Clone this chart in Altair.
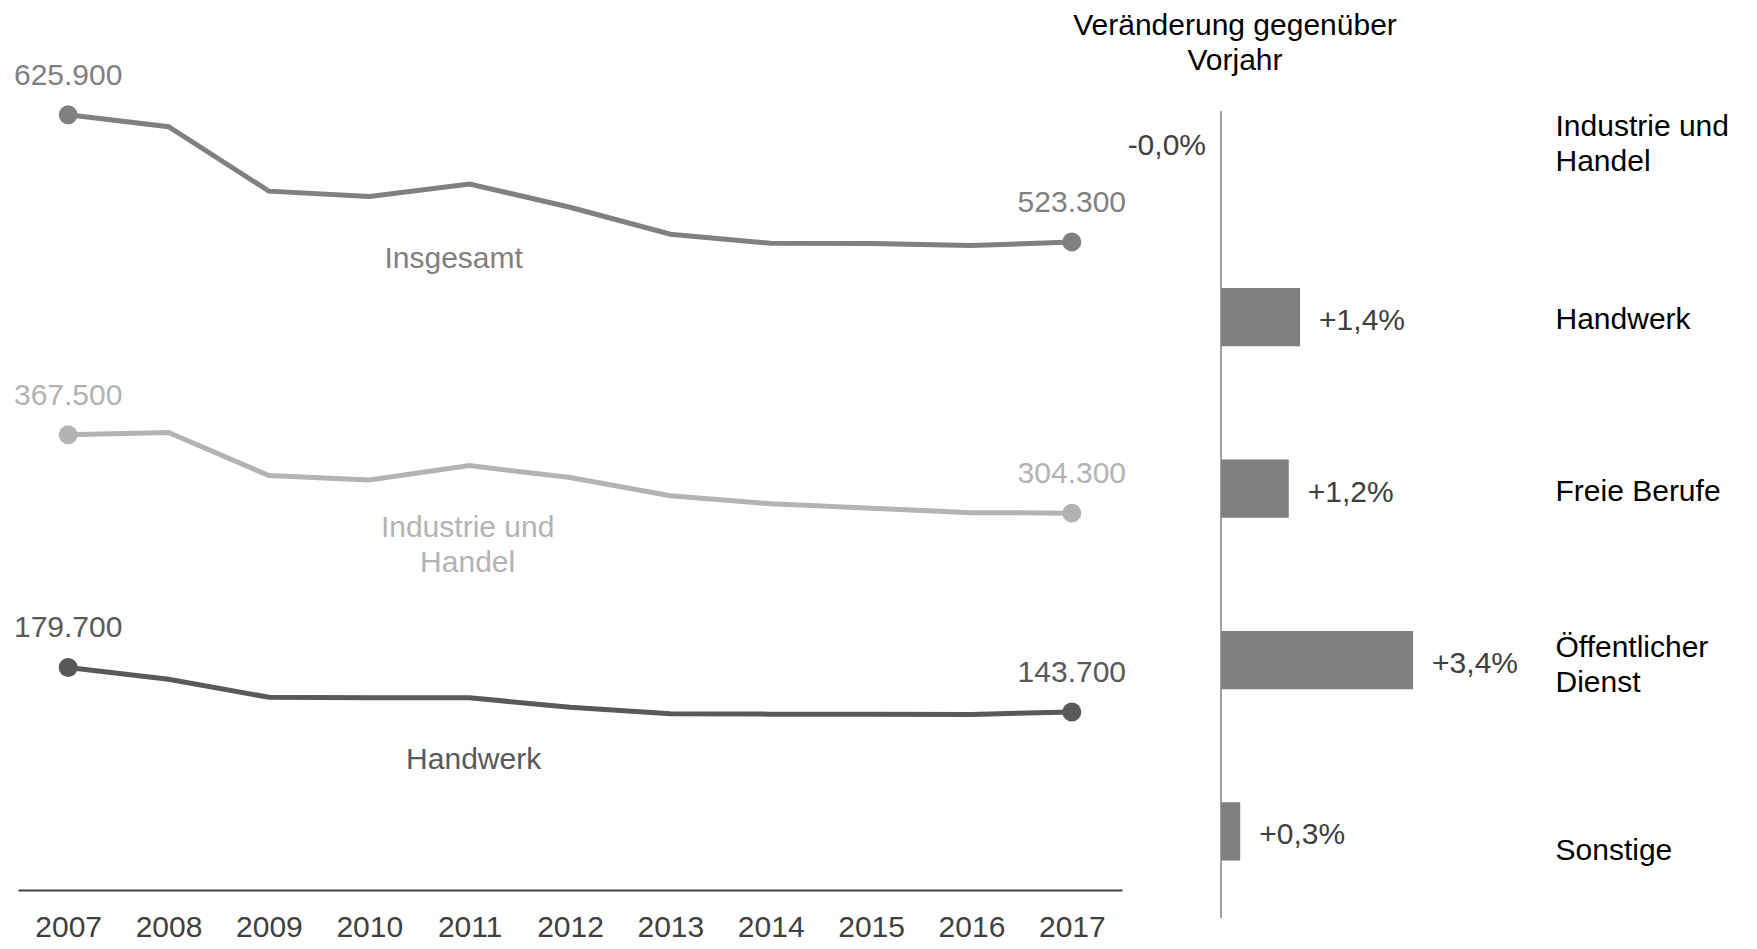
import altair as alt
import pandas as pd

# ---------------- data ----------------
years = ["2007", "2008", "2009", "2010", "2011", "2012", "2013", "2014", "2015", "2016", "2017"]
series_names = ["Insgesamt", "Industrie und Handel", "Handwerk"]
insgesamt = [625900, 616300, 564300, 560000, 570100, 551300, 529500, 522200, 522100, 520300, 523300]
industrie = [367500, 369400, 334600, 331000, 342700, 333000, 318300, 311900, 308300, 304700, 304300]
handwerk = [179700, 170100, 155600, 155200, 155200, 147500, 142300, 142000, 141900, 141800, 143700]
series_colors = ["#808080", "#b3b3b3", "#595959"]
series_label_lines = [["Insgesamt"], ["Industrie und", "Handel"], ["Handwerk"]]

categories = ["Industrie und Handel", "Handwerk", "Freie Berufe", "Öffentlicher Dienst", "Sonstige"]
changes = [-0.02, 1.4, 1.2, 3.4, 0.34]
right_title = ["Veränderung gegenüber", "Vorjahr"]

FONT = "Liberation Sans"


def de_int(v):
    return f"{v:,.0f}".replace(",", ".")


def de_pct(v):
    return f"{v:+.1f}".replace(".", ",") + "%"


series_values = [insgesamt, industrie, handwerk]
rows = []
for name, vals in zip(series_names, series_values):
    for y, v in zip(years, vals):
        rows.append({"Jahr": y, "Wert": v, "Reihe": name, "Label": de_int(v)})
line_df = pd.DataFrame(rows)
end_df = line_df[line_df["Jahr"].isin([years[0], years[-1]])].reset_index(drop=True)

color_enc = alt.Color("Reihe:N", scale=alt.Scale(domain=series_names, range=series_colors), legend=None)
x_enc = alt.X(
    "Jahr:O",
    sort=years,
    scale=alt.Scale(domain=years, type="point", padding=0.5),
    axis=alt.Axis(
        title=None, labelAngle=0, labelFontSize=30, labelColor="#404040", labelFont=FONT,
        domainColor="#404040", domainWidth=2, ticks=False, labelPadding=22, grid=False,
    ),
)
y_enc = alt.Y("Wert:Q", scale=alt.Scale(domain=[0, 629000], nice=False), axis=None)

base = alt.Chart(line_df).encode(x=x_enc, y=y_enc, color=color_enc)
lines = base.mark_line(strokeWidth=5)
points = alt.Chart(end_df).mark_circle(size=360, opacity=1).encode(x=x_enc, y=y_enc, color=color_enc)
value_labels = alt.Chart(end_df).mark_text(dy=-39, fontSize=30, baseline="middle", font=FONT).encode(
    x=x_enc, y=y_enc, text="Label:N", color=color_enc
)

# series name labels, anchored at the 2011 point of each series
anchor_idx = years.index("2011")
offsets = [(-16, 75), (-2, 62), (4, 62)]
name_layers = []
for name, vals, lines_txt, col, (ddx, ddy) in zip(series_names, series_values, series_label_lines, series_colors, offsets):
    df = pd.DataFrame({"Jahr": [years[anchor_idx]], "Wert": [vals[anchor_idx]]})
    txt = lines_txt if len(lines_txt) > 1 else lines_txt[0]
    name_layers.append(
        alt.Chart(df).mark_text(text=txt, dx=ddx, dy=ddy, fontSize=30, color=col, baseline="middle",
                                lineHeight=35, font=FONT).encode(x=x_enc, y=y_enc)
    )

left = alt.layer(lines, points, value_labels, *name_layers).properties(width=1104, height=779)

# ---------------- right panel ----------------
bar_df = pd.DataFrame({
    "Kategorie": categories,
    "Veraenderung": changes,
    "Label": [de_pct(v) for v in changes],
})

label_expr = (
    "datum.label == 'Industrie und Handel' ? ['Industrie und', 'Handel'] : "
    "datum.label == 'Öffentlicher Dienst' ? ['Öffentlicher', 'Dienst'] : datum.label"
)
label_offset = {
    "condition": [
        {"test": "datum.value == 'Industrie und Handel'", "value": -19},
        {"test": "datum.value == 'Öffentlicher Dienst'", "value": -12},
        {"test": "datum.value == 'Sonstige'", "value": 20},
    ],
    "value": 3,
}
y_bar = alt.Y(
    "Kategorie:N",
    sort=categories,
    scale=alt.Scale(domain=categories, paddingInner=0.66, paddingOuter=0.184, align=0.09),
    axis=alt.Axis(
        orient="right", title=None, domain=False, ticks=False, labelAlign="left", labelBaseline="middle",
        labelPadding=14, labelFontSize=30, labelColor="black", labelLimit=400, labelLineHeight=35,
        labelFont=FONT, labelExpr=label_expr, grid=False, labelOffset=label_offset,
    ),
)
x_bar = alt.X("Veraenderung:Q", scale=alt.Scale(domain=[0, 5.664], nice=False), axis=None)

bars = alt.Chart(bar_df).mark_bar(color="#808080").encode(x=x_bar, y=y_bar)
zero_df = pd.DataFrame({"Veraenderung": [0.0]})
zero_rule = alt.Chart(zero_df).mark_rule(color="#808080", strokeWidth=1.5).encode(x=x_bar)
pos_text = alt.Chart(bar_df).transform_filter(alt.datum.Veraenderung >= 0).mark_text(
    align="left", dx=19, dy=4, fontSize=30, color="#404040", baseline="middle", font=FONT
).encode(x=x_bar, y=y_bar, text="Label:N")
neg_text = alt.Chart(bar_df).transform_filter(alt.datum.Veraenderung < 0).mark_text(
    align="right", dx=-15, fontSize=30, color="#404040", baseline="middle", font=FONT
).encode(y=y_bar, text="Label:N",
         x=alt.X("Veraenderung:Q", scale=alt.Scale(domain=[0, 5.664], nice=False, clamp=True), axis=None))

right = alt.layer(bars, zero_rule, pos_text, neg_text).properties(
    width=320,
    height=807,
    title=alt.Title(
        text=right_title, fontSize=30, font=FONT, fontWeight="normal", color="black",
        anchor="start", frame="group", align="center", dx=14, offset=34, lineHeight=35,
    ),
)

chart = (
    alt.hconcat(left, right, spacing=99, bounds="flush")
    .properties(padding={"left": 5, "top": 3, "right": 5, "bottom": 0})
    .configure(font=FONT)
    .configure_view(stroke=None, strokeWidth=0)
)

chart.save("out.html", embed_options={"renderer": "svg", "actions": False})
